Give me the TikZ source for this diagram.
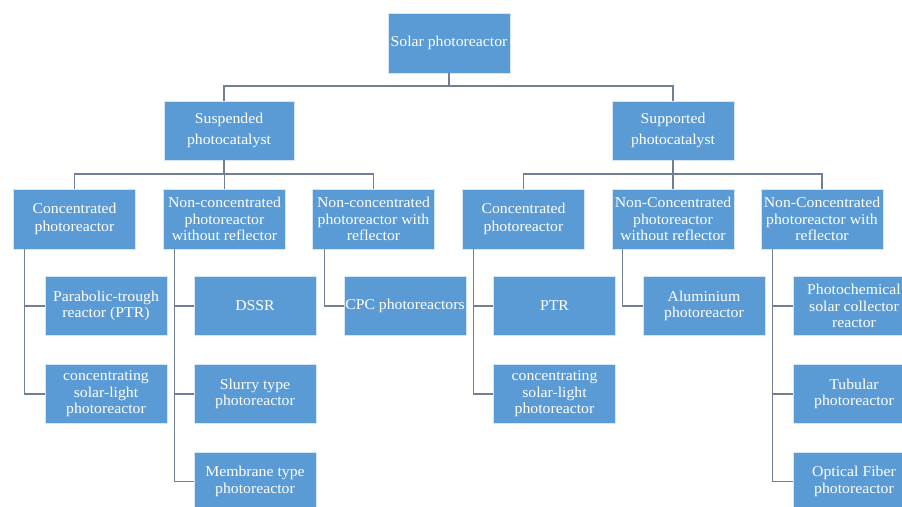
\documentclass[tikz,border=0pt]{standalone}
\usepackage{fontspec}
\setmainfont[FakeStretch=1.05]{Liberation Serif}
\definecolor{boxblue}{HTML}{5B9BD5}
\definecolor{linegray}{HTML}{6F7F95}
\begin{document}
\begin{tikzpicture}[x=1pt,y=-1pt,
  box/.style={fill=boxblue, draw=white!75!boxblue, line width=0.6pt, text=white,
    inner sep=0pt, align=center, minimum width=122pt, minimum height=59pt,
    font=\fontsize{15}{16.5}\selectfont},
  wide/.style={minimum width=130pt},
  loose/.style={font=\fontsize{15}{21}\selectfont},
  mid/.style={font=\fontsize{15}{18}\selectfont},
  conn/.style={draw=linegray, line width=1.3pt}]
\useasboundingbox (0,0) rectangle (902,506);
\fill[white] (0,0) rectangle (902,506);
\clip (0,0) rectangle (902,506);
% level 1
\node[box, minimum height=60pt] (root) at (449,43) {Solar photoreactor};
% level 2
\node[box, wide, loose] (susp) at (229,130.5) {Suspended\\photocatalyst};
\node[box, loose] (supp) at (673,130.5) {Supported\\photocatalyst};
% level 3
\node[box, mid, minimum height=60pt] (conc1) at (74.5,219) {Concentrated\\photoreactor};
\node[box, minimum height=60pt] (nw1) at (224.5,219) {Non-concentrated\\photoreactor\\without reflector};
\node[box, minimum height=60pt] (nwr1) at (373.5,219) {Non-concentrated\\photoreactor with\\reflector};
\node[box, mid, minimum height=60pt] (conc2) at (523.5,219) {Concentrated\\photoreactor};
\node[box, minimum height=60pt] (nw2) at (673,219) {Non-Concentrated\\photoreactor\\without reflector};
\node[box, minimum height=60pt] (nwr2) at (822,219) {Non-Concentrated\\photoreactor with\\reflector};
% level 4
\node[box] (ptr1) at (106,306) {Parabolic-trough\\reactor (PTR)};
\node[box] (csl1) at (106,394) {concentrating\\solar-light\\photoreactor};
\node[box] (dssr) at (255,306) {DSSR};
\node[box] (slurry) at (255,394) {Slurry type\\photoreactor};
\node[box] (memb) at (255,481.5) {Membrane type\\photoreactor};
\node[box] (cpc) at (405,306) {CPC photoreactors};
\node[box] (ptr2) at (554.5,306) {PTR};
\node[box] (csl2) at (554.5,394) {concentrating\\solar-light\\photoreactor};
\node[box] (alu) at (704,306) {Aluminium\\photoreactor};
\node[box] (photo) at (854,306) {Photochemical\\solar collector\\reactor};
\node[box] (tub) at (854,394) {Tubular\\photoreactor};
\node[box] (opt) at (854,481.5) {Optical Fiber\\photoreactor};
% connectors level 1-2
\coordinate (b1) at (449,86);
\draw[conn] (root.south) -- (b1);
\draw[conn] ([xshift=-5pt]susp.north) |- (b1) -| (supp.north);
% level 2-3
\coordinate (b2l) at (224,174);
\coordinate (b2r) at (673,174);
\draw[conn] ([xshift=-5pt]susp.south) -- (b2l);
\draw[conn] (conc1.north) |- (b2l) -| (nwr1.north);
\draw[conn] (nw1.north) -- (nw1.north |- b2l);
\draw[conn] (supp.south) -- (b2r);
\draw[conn] (conc2.north) |- (b2r) -| (nwr2.north);
\draw[conn] (nw2.north) -- (nw2.north |- b2r);
% level 3-4
\draw[conn] ([xshift=11pt]conc1.south west) |- (ptr1.west);
\draw[conn] ([xshift=11pt]conc1.south west) |- (csl1.west);
\draw[conn] ([xshift=11pt]nw1.south west) |- (dssr.west);
\draw[conn] ([xshift=11pt]nw1.south west) |- (slurry.west);
\draw[conn] ([xshift=11pt]nw1.south west) |- (memb.west);
\draw[conn] ([xshift=12pt]nwr1.south west) |- (cpc.west);
\draw[conn] ([xshift=11pt]conc2.south west) |- (ptr2.west);
\draw[conn] ([xshift=11pt]conc2.south west) |- (csl2.west);
\draw[conn] ([xshift=11pt]nw2.south west) |- (alu.west);
\draw[conn] ([xshift=12pt]nwr2.south west) |- (photo.west);
\draw[conn] ([xshift=12pt]nwr2.south west) |- (tub.west);
\draw[conn] ([xshift=12pt]nwr2.south west) |- (opt.west);
\end{tikzpicture}
\end{document}
